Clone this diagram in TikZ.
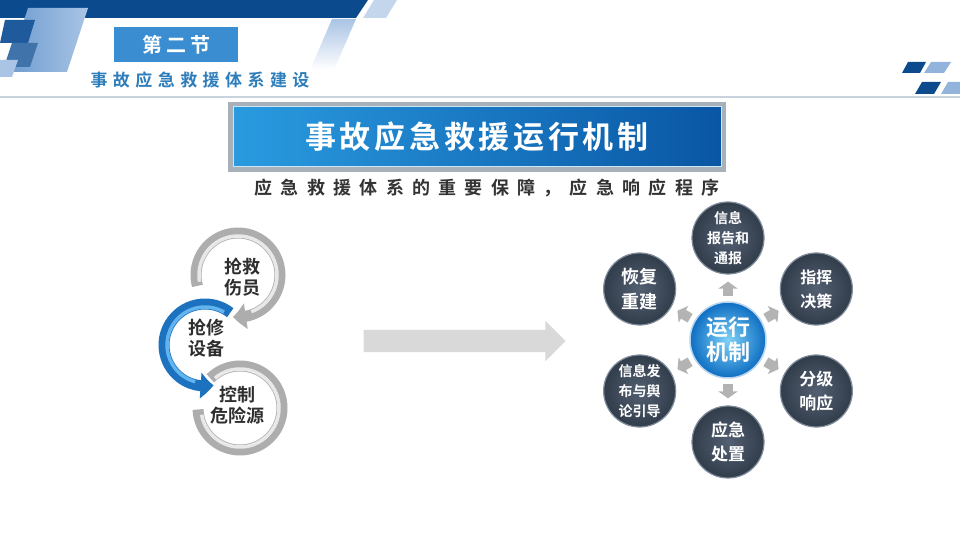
\documentclass[tikz,border=0pt]{standalone}
\usepackage{fontspec}
\setmainfont{Noto Sans CJK SC}[BoldFont={* Bold}]
\usetikzlibrary{positioning,arrows.meta,bending,shapes.arrows}
\definecolor{navy}{HTML}{0C4A8E}
\definecolor{deepblue}{HTML}{1F5A9C}
\definecolor{midblue}{HTML}{6D9BD0}
\definecolor{paleblue}{HTML}{A9C4E4}
\definecolor{secblue}{HTML}{3A8DD1}
\definecolor{headblue}{HTML}{2E7DBB}
\definecolor{rulegray}{HTML}{C9D3DD}
\definecolor{titleleft}{HTML}{2A9BE0}
\definecolor{titleright}{HTML}{0956A4}
\definecolor{framegray}{HTML}{A8B1BA}
\definecolor{inkgray}{HTML}{333333}
\definecolor{ringgray}{HTML}{ADADAD}
\definecolor{ringlight}{HTML}{E8E8E8}
\definecolor{ringblue}{HTML}{1D72C0}
\definecolor{ringbluelight}{HTML}{62B4EE}
\definecolor{arrowfill}{HTML}{D9D9D9}
\definecolor{slatein}{HTML}{536072}
\definecolor{slateout}{HTML}{323D4B}
\definecolor{rimgray}{HTML}{7F8C9C}
\definecolor{corein}{HTML}{7FD2F8}
\definecolor{coreout}{HTML}{0E6EC2}
\definecolor{smallgray}{HTML}{B3B3B3}
\newcommand{\cfont}[2]{\bfseries\fontsize{#1}{#2}\selectfont}

\begin{document}
\begin{tikzpicture}[x=1pt, y=1pt,
  sect/.style={fill=secblue, text=white, minimum width=124pt, minimum height=35pt, inner sep=0pt,
    font=\cfont{20}{24}\addfontfeature{LetterSpace=20}},
  headline/.style={text=headblue, inner sep=0pt, font=\cfont{17}{20}\addfontfeature{LetterSpace=32}},
  titlebox/.style={minimum width=488pt, minimum height=60pt, inner sep=0pt, left color=titleleft,
    right color=titleright, draw=white!75!titleleft, line width=1pt, text=white,
    font=\cfont{31}{36}\addfontfeature{LetterSpace=12}},
  subline/.style={text=inkgray, inner sep=0pt, font=\cfont{18}{22}\addfontfeature{LetterSpace=46}},
  ring/.style={line width=11pt, draw=ringgray},
  ringhi/.style={line width=3.5pt, draw=ringlight},
  cycletext/.style={text=inkgray!90!black, align=center, inner sep=0pt, font=\cfont{18}{21}},
  bigarrow/.style={single arrow, fill=arrowfill, minimum height=202pt, inner xsep=0pt, inner ysep=11pt,
    single arrow head extend=9pt, single arrow head indent=0pt},
  ball/.style={circle, minimum size=72pt, inner sep=0pt, draw=rimgray, line width=1.2pt,
    inner color=slatein, outer color=slateout, text=white, align=center, font=\cfont{17}{24}},
  core/.style={circle, minimum size=76pt, inner sep=0pt, draw=white!70!coreout, line width=1.5pt,
    inner color=corein, outer color=coreout, text=white, align=center, font=\cfont{22}{25}},
  smallarrow/.style={line width=10pt, draw=smallgray, -{Triangle[width=19pt,length=7pt]},
    shorten <=5pt, shorten >=7pt},
]
\useasboundingbox (0,0) rectangle (960,540);

% header band and tiles
\fill[navy] (0,540) -- (368,540) -- (356,522) -- (0,522) -- cycle;
\fill[paleblue, opacity=.7] (374,540) -- (397,540) -- (386,522) -- (363,522) -- cycle;
\shade[top color=paleblue, bottom color=white] (332,521) -- (356,521) -- (334,470) -- (310,470) -- cycle;
\shade[left color=midblue, right color=paleblue] (28,532) -- (88,532) -- (67,468) -- (7,468) -- cycle;
\fill[deepblue] (5,520) -- (35,520) -- (28,497) -- (0,497) -- cycle;
\fill[deepblue!85] (12,497) -- (38,497) -- (30,473) -- (4,473) -- cycle;
\fill[paleblue] (0,480) -- (18,480) -- (12,463) -- (0,463) -- cycle;
\fill[navy] (902,467) -- (920,467) -- (926,478) -- (908,478) -- cycle;
\fill[midblue!75] (924,467) -- (944,467) -- (951,478) -- (931,478) -- cycle;
\fill[navy] (915,446) -- (934,446) -- (941,458) -- (922,458) -- cycle;
\fill[midblue!75] (941,446) -- (960,446) -- (960,458) -- (948,458) -- cycle;
\draw[rulegray, line width=1.5pt] (0,443) -- (960,443);

\node[sect] (sect) at (176,495) {第二节};
\node[headline] (part) at (200,460) {事故应急救援体系建设};

% title
\fill[framegray] (228,368) rectangle (726,438);
\node[titlebox] (title) at (477,403) {事故应急救援运行机制};
\node[subline, below=11pt of title, xshift=10pt] (motto) {应急救援体系的重要保障，应急响应程序};

% left cycle
\coordinate (topc) at (238,265);
\coordinate (midc) at (205,195);
\coordinate (lowc) at (240,132);
\draw[ring] ([shift={(135:42)}]lowc) arc[start angle=135, end angle=-178, radius=42];
\draw[ringhi] ([shift={(130:39)}]lowc) arc[start angle=130, end angle=-170, radius=39];
\draw[ring, -{Triangle[width=25pt,length=13pt,bend]}] ([shift={(195:42)}]topc)
  arc[start angle=195, end angle=-97, radius=42];
\draw[ringhi] ([shift={(190:39)}]topc) arc[start angle=190, end angle=-70, radius=39];
\draw[ring, draw=ringblue, -{Triangle[width=25pt,length=13pt,bend]}] ([shift={(52:41)}]midc)
  arc[start angle=52, end angle=282, radius=41];
\draw[ringhi, draw=ringbluelight] ([shift={(60:38)}]midc) arc[start angle=60, end angle=255, radius=38];

\node[cycletext] (rescue) at (242,263) {抢救\\伤员};
\node[cycletext] (repair) at (206,202) {抢修\\设备};
\node[cycletext] (control) at (237,135) {控制\\危险源};

% big arrow
\node[bigarrow] (shift) at (459,199) {};

% right wheel
\node[core] (core) at (728,200) {运行\\机制};
\node[ball, font=\cfont{14}{20}] (info) at ([shift={(90:102)}]core) {信息\\报告和\\通报};
\node[ball, font=\cfont{16}{24}] (command) at ([shift={(30:102)}]core) {指挥\\决策};
\node[ball] (grading) at ([shift={(-30:102)}]core) {分级\\响应};
\node[ball] (disposal) at ([shift={(-90:102)}]core) {应急\\处置};
\node[ball, font=\cfont{14}{20}] (publish) at ([shift={(-150:102)}]core) {信息发\\布与舆\\论引导};
\node[ball, font=\cfont{18}{25}] (recover) at ([shift={(150:102)}]core) {恢复\\重建};

\foreach \n in {info,command,grading,disposal,publish,recover}
  \draw[smallarrow] (core) -- (\n);
\end{tikzpicture}
\end{document}
